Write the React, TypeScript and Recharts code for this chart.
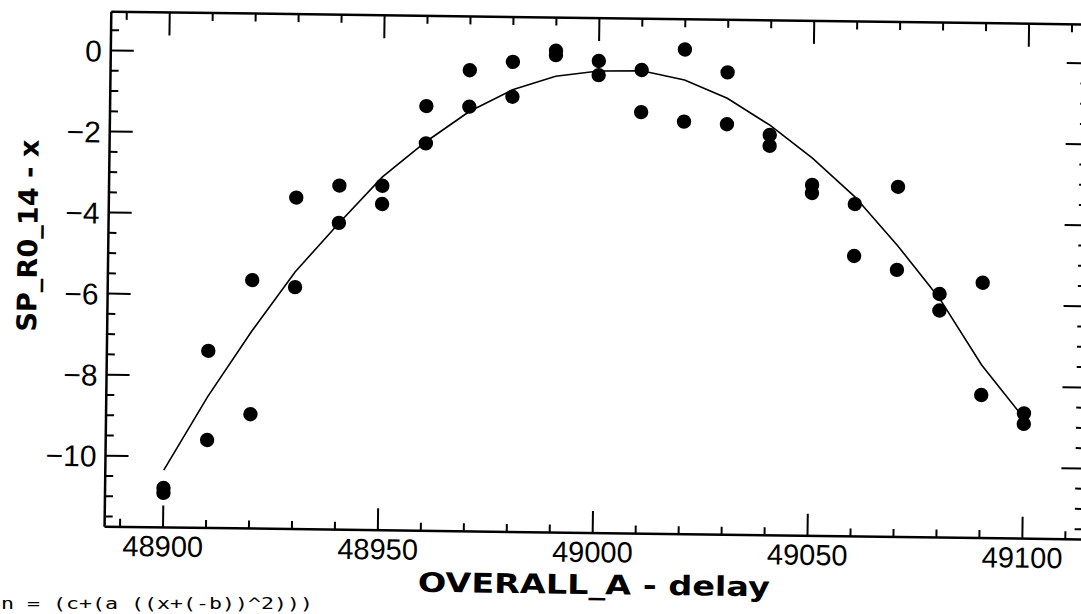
import React from 'react';
import { ComposedChart, XAxis, YAxis, Scatter, Line } from 'recharts';

// ---- data ----
const delays = [48900, 48910, 48920, 48930, 48940, 48950, 48960, 48970, 48980, 48990, 49000, 49010, 49020, 49030, 49040, 49050, 49060, 49070, 49080, 49090, 49100];
const upperRun = [-10.78, -7.38, -5.62, -3.57, -3.26, -3.25, -1.27, -0.37, -0.15, 0.14, -0.1, -0.31, 0.21, -0.34, -1.87, -3.09, -3.55, -3.11, -5.74, -5.45, -8.66];
const lowerRun = [-10.9, -9.58, -8.93, -5.78, -4.18, -3.7, -2.19, -1.27, -1.01, 0.03, -0.45, -1.35, -1.57, -1.62, -2.14, -3.29, -4.83, -5.16, -6.15, -8.22, -8.92];
const fitCurve = [-10.34, -8.51, -6.89, -5.4, -4.19, -3.03, -2.15, -1.39, -0.84, -0.49, -0.35, -0.33, -0.54, -0.98, -1.63, -2.43, -3.37, -4.55, -5.85, -7.48, -8.78];

const xMajorTicks = [48900, 48950, 49000, 49050, 49100];
const yMajorTicks = [0, -2, -4, -6, -8, -10];
const xDomain = [48886.4, 49114.0];
const yDomain = [-11.752, 0.958];

const xTitle = 'OVERALL_A - delay';
const yTitle = 'SP_R0_14 - x';
const footText = 'n = (c+(a ((x+(-b))^2)))';

// tick positions (every 10 on x, every 0.5 on y)
const xAllTicks: number[] = [];
for (let v = 48890; v <= 49110; v += 10) xAllTicks.push(v);
const yAllTicks: number[] = [];
for (let k = -23; k <= 1; k++) yAllTicks.push(k / 2);

const upperData = delays.map((d, i) => ({ x: d, y: upperRun[i] }));
const lowerData = delays.map((d, i) => ({ x: d, y: lowerRun[i] }));
const curveData = delays.map((d, i) => ({ x: d, y: fitCurve[i] }));

const fmt = (v: number) => (v < 0 ? '\u2212' + Math.abs(v) : String(v));
const isMajorX = (v: number) => xMajorTicks.includes(v);
const isMajorY = (v: number) => yMajorTicks.some((t) => Math.abs(t - v) < 1e-6);

const LABEL_FONT = '"Liberation Sans", Arial, sans-serif';
const TITLE_FONT = '"DejaVu Sans", Verdana, sans-serif';

const BottomTick = (p: any) => {
  const { x, y, payload } = p;
  const v = payload.value;
  const major = isMajorX(v);
  return (
    <g>
      <line x1={x} x2={x} y1={y} y2={y - (major ? 22 : 8)} stroke="#000" strokeWidth={2} />
      {major && (
        <text x={x} y={y + 29} textAnchor="middle" fontSize={29} fontFamily={LABEL_FONT} fill="#000">
          {fmt(v)}
        </text>
      )}
    </g>
  );
};

const TopTick = (p: any) => {
  const { x, y, payload } = p;
  const major = isMajorX(payload.value);
  return <line x1={x} x2={x} y1={y} y2={y + (major ? 23 : 8)} stroke="#000" strokeWidth={2} />;
};

const LeftTick = (p: any) => {
  const { x, y, payload } = p;
  const v = payload.value;
  const major = isMajorY(v);
  return (
    <g>
      <line x1={x} x2={x + (major ? 23 : 8)} y1={y} y2={y} stroke="#000" strokeWidth={2} />
      {major && (
        <text x={x - 9} y={y + 11} textAnchor="end" fontSize={30} fontFamily={LABEL_FONT} fill="#000">
          {fmt(v)}
        </text>
      )}
    </g>
  );
};

const RightTick = (p: any) => {
  const { x, y, payload } = p;
  const major = isMajorY(payload.value);
  return <line x1={x} x2={x - (major ? 22 : 8)} y1={y} y2={y} stroke="#000" strokeWidth={2} />;
};

const Dot = (p: any) => <circle cx={p.cx} cy={p.cy} r={7.2} fill="#000" />;

const axisLineStyle = { stroke: '#000', strokeWidth: 2.5 };

export default function App() {
  const W = 1100;
  const H = 614;
  return (
    <div style={{ position: 'fixed', left: 0, top: 0, width: 1081, height: 614, overflow: 'hidden', background: '#fff' }}>
      <div
        style={{
          position: 'absolute',
          left: 0,
          top: 0,
          width: W,
          height: H,
          transform: 'rotate(0.75deg)',
          transformOrigin: '592px 268px',
        }}
      >
        <ComposedChart width={W} height={H} margin={{ left: 107, right: W - 1086 - 1, top: 17, bottom: H - 533 - 1 }}>
          <XAxis
            xAxisId="b"
            dataKey="x"
            type="number"
            orientation="bottom"
            domain={xDomain}
            allowDataOverflow
            ticks={xAllTicks}
            interval={0}
            height={1}
            tickSize={0}
            tickMargin={0}
            tickLine={false}
            axisLine={axisLineStyle}
            tick={<BottomTick />}
          />
          <XAxis
            xAxisId="t"
            dataKey="x"
            type="number"
            orientation="top"
            domain={xDomain}
            allowDataOverflow
            ticks={xAllTicks}
            interval={0}
            height={1}
            tickSize={0}
            tickMargin={0}
            tickLine={false}
            axisLine={axisLineStyle}
            tick={<TopTick />}
          />
          <YAxis
            yAxisId="l"
            dataKey="y"
            type="number"
            orientation="left"
            domain={yDomain}
            allowDataOverflow
            ticks={yAllTicks}
            interval={0}
            width={1}
            tickSize={0}
            tickMargin={0}
            tickLine={false}
            axisLine={axisLineStyle}
            tick={<LeftTick />}
          />
          <YAxis
            yAxisId="r"
            dataKey="y"
            type="number"
            orientation="right"
            domain={yDomain}
            allowDataOverflow
            ticks={yAllTicks}
            interval={0}
            width={1}
            tickSize={0}
            tickMargin={0}
            tickLine={false}
            axisLine={axisLineStyle}
            tick={<RightTick />}
          />
          <Line
            xAxisId="b"
            yAxisId="l"
            data={curveData}
            dataKey="y"
            type="linear"
            stroke="#000"
            strokeWidth={1.6}
            dot={false}
            activeDot={false}
            isAnimationActive={false}
          />
          <Scatter xAxisId="b" yAxisId="l" data={upperData} dataKey="y" shape={<Dot />} isAnimationActive={false} />
          <Scatter xAxisId="b" yAxisId="l" data={lowerData} dataKey="y" shape={<Dot />} isAnimationActive={false} />
          <Scatter xAxisId="t" yAxisId="r" data={[]} dataKey="y" isAnimationActive={false} />
        </ComposedChart>
        <svg width={W} height={H} style={{ position: 'absolute', left: 0, top: 0, pointerEvents: 'none' }}>
          <text
            x={598}
            y={594}
            textAnchor="middle"
            fontSize={27}
            fontWeight="bold"
            fontFamily={TITLE_FONT}
            textLength={352}
            lengthAdjust="spacingAndGlyphs"
            fill="#000"
          >
            {xTitle}
          </text>
          <text
            transform="translate(37,243) rotate(-90)"
            x={0}
            y={0}
            textAnchor="middle"
            fontSize={27}
            fontWeight="bold"
            fontFamily={TITLE_FONT}
            textLength={192}
            lengthAdjust="spacingAndGlyphs"
            fill="#000"
          >
            {yTitle}
          </text>
        </svg>
      </div>
      <svg width={1081} height={614} style={{ position: 'absolute', left: 0, top: 0, pointerEvents: 'none' }}>
        <text x={1} y={609} fontSize={15} fontFamily='"DejaVu Sans Mono", monospace' textLength={312} lengthAdjust="spacingAndGlyphs" fill="#000">
          {footText}
        </text>
      </svg>
    </div>
  );
}
